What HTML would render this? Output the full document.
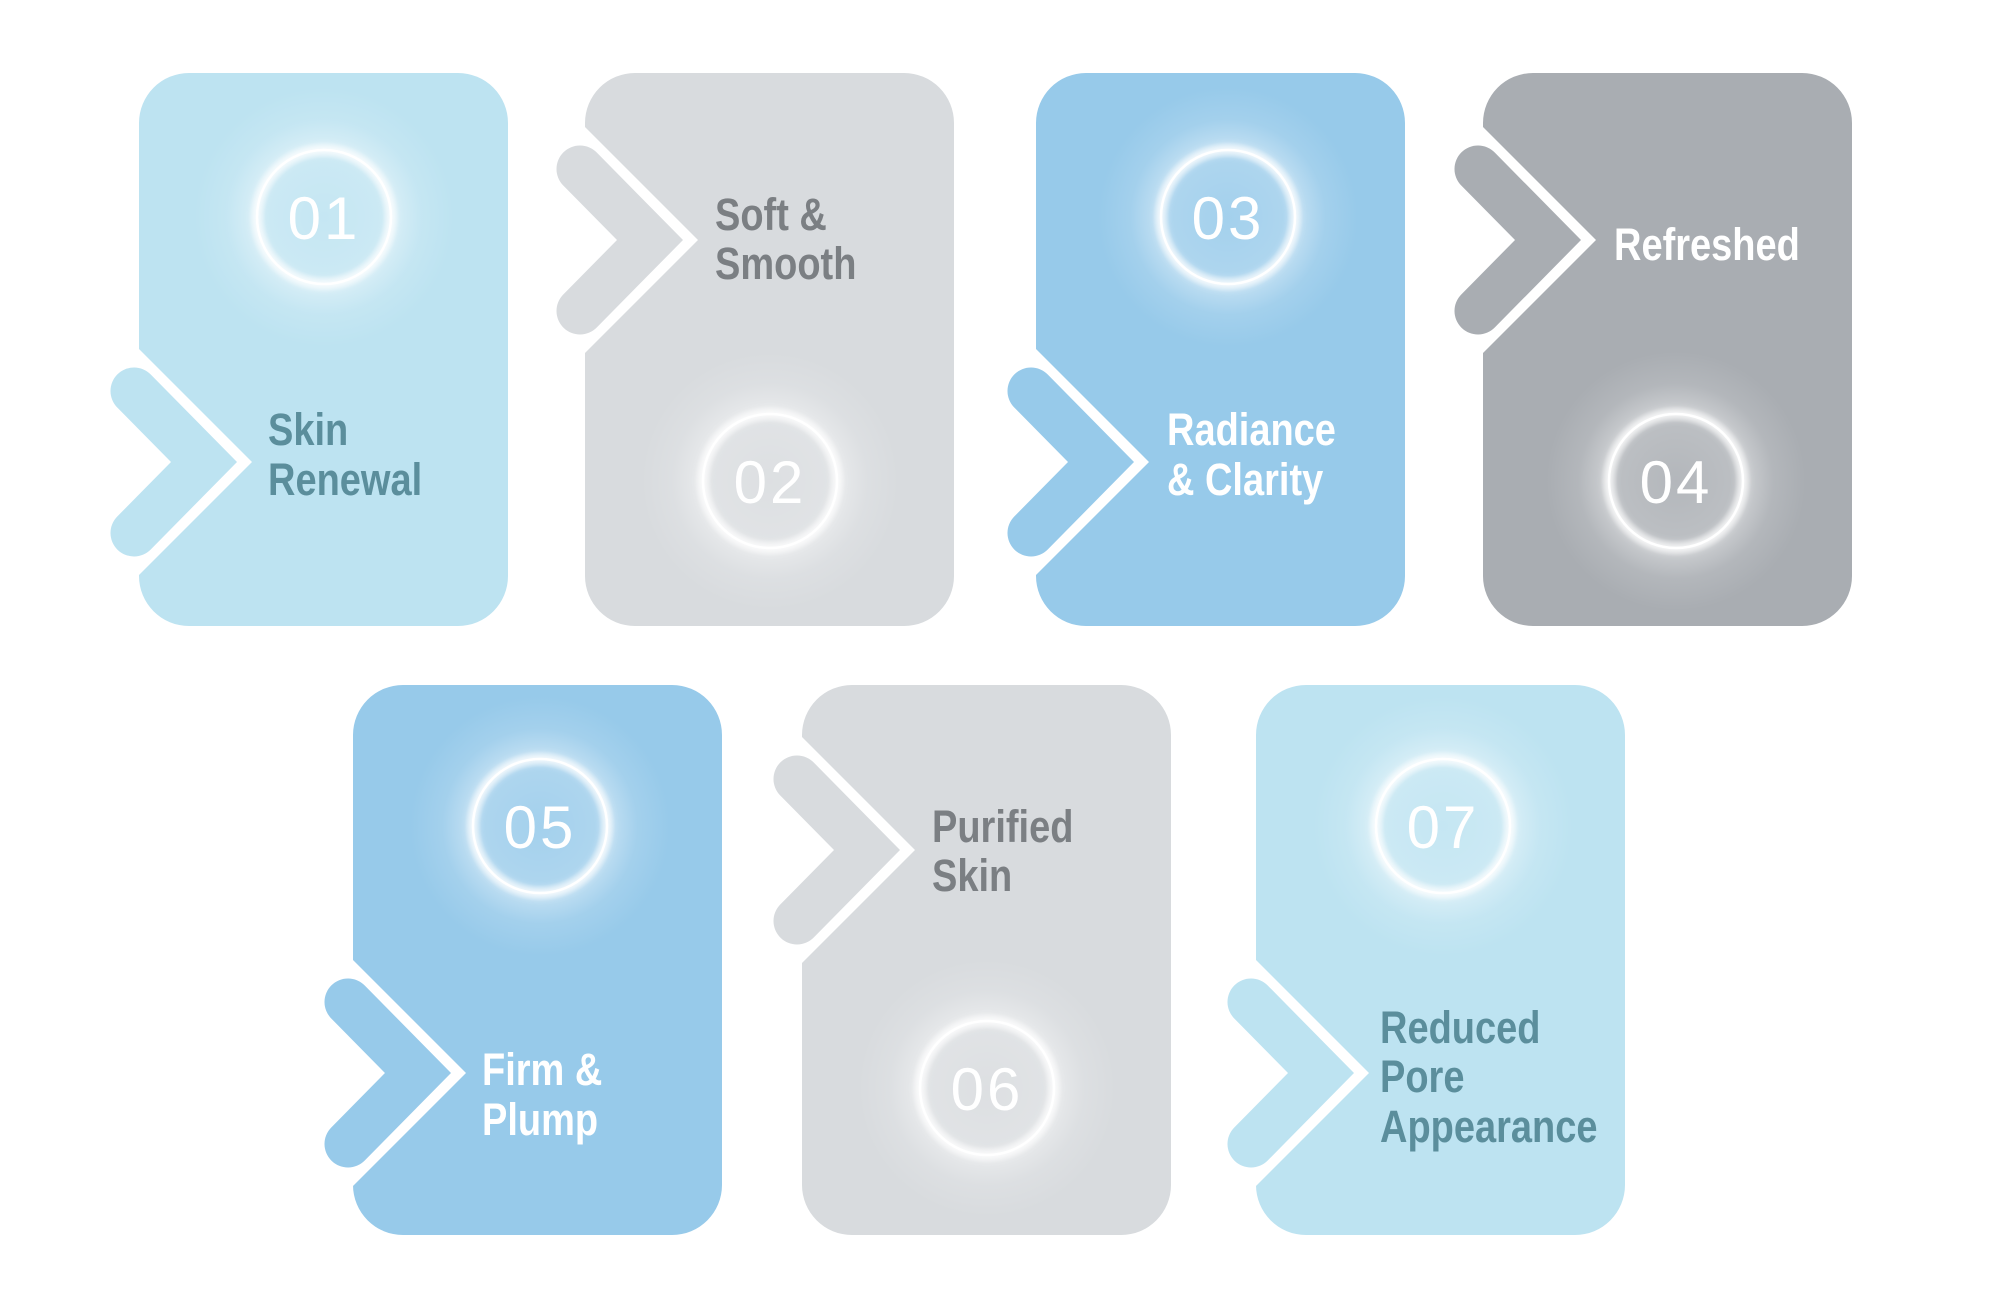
<!DOCTYPE html>
<html><head><meta charset="utf-8"><style>
html,body{margin:0;padding:0;background:#fff;}
svg{display:block;}
.t{font-family:"Liberation Sans",sans-serif;font-weight:bold;font-size:38px;}
.n{font-family:"Liberation Sans",sans-serif;font-weight:normal;font-size:60px;fill:#fff;letter-spacing:3px;}
</style></head><body>
<svg width="2000" height="1302" viewBox="0 0 2000 1302" xmlns="http://www.w3.org/2000/svg">
<defs>
<radialGradient id="halo" cx="0.5" cy="0.5" r="0.5">
<stop offset="0" stop-color="#fff" stop-opacity="0.12"/>
<stop offset="0.45" stop-color="#fff" stop-opacity="0.22"/>
<stop offset="0.52" stop-color="#fff" stop-opacity="0.75"/>
<stop offset="0.58" stop-color="#fff" stop-opacity="0.35"/>
<stop offset="0.75" stop-color="#fff" stop-opacity="0.12"/>
<stop offset="1" stop-color="#fff" stop-opacity="0"/>
</radialGradient>
<filter id="bl" x="-50%" y="-50%" width="200%" height="200%"><feGaussianBlur stdDeviation="4"/></filter>
<g id="glow">
<circle cx="0" cy="0" r="130" fill="url(#halo)"/>
<circle cx="0" cy="0" r="67" fill="none" stroke="#fff" stroke-width="8" opacity="0.7" filter="url(#bl)"/>
<circle cx="0" cy="0" r="67" fill="none" stroke="#fff" stroke-width="2.5"/>
</g>
</defs>

<g transform="translate(0,-2)">
<path d="M189,75 H458 A50,50 0 0 1 508,125 V578 A50,50 0 0 1 458,628 H189 A50,50 0 0 1 139,578 V577 L252,464 L139,351 V125 A50,50 0 0 1 189,75 Z" fill="#bde3f1"/>
<polyline points="134,393 204,464 134,535" fill="none" stroke="#bde3f1" stroke-width="47" stroke-linecap="round"/>
<use href="#glow" x="324" y="219"/>
<text class="n" x="324" y="241" text-anchor="middle">01</text>
<g fill="#5b8e9c"><text class="t" transform="translate(268,447) scale(1,1.2)">Skin</text>
<text class="t" transform="translate(268,497) scale(1,1.2)">Renewal</text></g>
</g>

<g transform="translate(-5,-2)">
<path d="M640,75 H909 A50,50 0 0 1 959,125 V578 A50,50 0 0 1 909,628 H640 A50,50 0 0 1 590,578 V355 L703,242 L590,129 V125 A50,50 0 0 1 640,75 Z" fill="#d8dbde"/>
<polyline points="585,171 655,242 585,313" fill="none" stroke="#d8dbde" stroke-width="47" stroke-linecap="round"/>
<use href="#glow" x="775" y="483"/>
<text class="n" x="775" y="505" text-anchor="middle">02</text>
<g fill="#7b7f83"><text class="t" transform="translate(720,232) scale(1,1.2)">Soft &amp;</text>
<text class="t" transform="translate(720,281) scale(1,1.2)">Smooth</text></g>
</g>

<g transform="translate(-12,-2)">
<path d="M1098,75 H1367 A50,50 0 0 1 1417,125 V578 A50,50 0 0 1 1367,628 H1098 A50,50 0 0 1 1048,578 V577 L1161,464 L1048,351 V125 A50,50 0 0 1 1098,75 Z" fill="#97caea"/>
<polyline points="1043,393 1113,464 1043,535" fill="none" stroke="#97caea" stroke-width="47" stroke-linecap="round"/>
<use href="#glow" x="1240" y="219"/>
<text class="n" x="1240" y="241" text-anchor="middle">03</text>
<g fill="#ffffff"><text class="t" transform="translate(1179,447) scale(1,1.2)">Radiance</text>
<text class="t" transform="translate(1179,497) scale(1,1.2)">&amp; Clarity</text></g>
</g>

<g transform="translate(-14,-2)">
<path d="M1547,75 H1816 A50,50 0 0 1 1866,125 V578 A50,50 0 0 1 1816,628 H1547 A50,50 0 0 1 1497,578 V355 L1610,242 L1497,129 V125 A50,50 0 0 1 1547,75 Z" fill="#a9adb2"/>
<polyline points="1492,171 1562,242 1492,313" fill="none" stroke="#a9adb2" stroke-width="47" stroke-linecap="round"/>
<use href="#glow" x="1690" y="483"/>
<text class="n" x="1690" y="505" text-anchor="middle">04</text>
<text class="t" fill="#ffffff" transform="translate(1628,262) scale(1,1.2)">Refreshed</text>
</g>

<g transform="translate(-4,-7)">
<path d="M407,692 H676 A50,50 0 0 1 726,742 V1192 A50,50 0 0 1 676,1242 H407 A50,50 0 0 1 357,1192 V1193 L470,1080 L357,967 V742 A50,50 0 0 1 407,692 Z" fill="#97caea"/>
<polyline points="352,1009 422,1080 352,1151" fill="none" stroke="#97caea" stroke-width="47" stroke-linecap="round"/>
<use href="#glow" x="544" y="833"/>
<text class="n" x="544" y="855" text-anchor="middle">05</text>
<g fill="#ffffff"><text class="t" transform="translate(486,1092) scale(1,1.2)">Firm &amp;</text>
<text class="t" transform="translate(486,1142) scale(1,1.2)">Plump</text></g>
</g>

<g transform="translate(-9,-7)">
<path d="M861,692 H1130 A50,50 0 0 1 1180,742 V1192 A50,50 0 0 1 1130,1242 H861 A50,50 0 0 1 811,1192 V970 L924,857 L811,744 V742 A50,50 0 0 1 861,692 Z" fill="#d8dbde"/>
<polyline points="806,786 876,857 806,928" fill="none" stroke="#d8dbde" stroke-width="47" stroke-linecap="round"/>
<use href="#glow" x="996" y="1095"/>
<text class="n" x="996" y="1117" text-anchor="middle">06</text>
<g fill="#7b7f83"><text class="t" transform="translate(941,849) scale(1,1.2)">Purified</text>
<text class="t" transform="translate(941,898) scale(1,1.2)">Skin</text></g>
</g>

<g transform="translate(-13,-7)">
<path d="M1319,692 H1588 A50,50 0 0 1 1638,742 V1192 A50,50 0 0 1 1588,1242 H1319 A50,50 0 0 1 1269,1192 V1193 L1382,1080 L1269,967 V742 A50,50 0 0 1 1319,692 Z" fill="#bde3f1"/>
<polyline points="1264,1009 1334,1080 1264,1151" fill="none" stroke="#bde3f1" stroke-width="47" stroke-linecap="round"/>
<use href="#glow" x="1456" y="833"/>
<text class="n" x="1456" y="855" text-anchor="middle">07</text>
<g fill="#5b8e9c"><text class="t" transform="translate(1393,1050) scale(1,1.2)">Reduced</text>
<text class="t" transform="translate(1393,1099) scale(1,1.2)">Pore</text>
<text class="t" transform="translate(1393,1149) scale(1,1.2)">Appearance</text></g>
</g>
</svg>
</body></html>
